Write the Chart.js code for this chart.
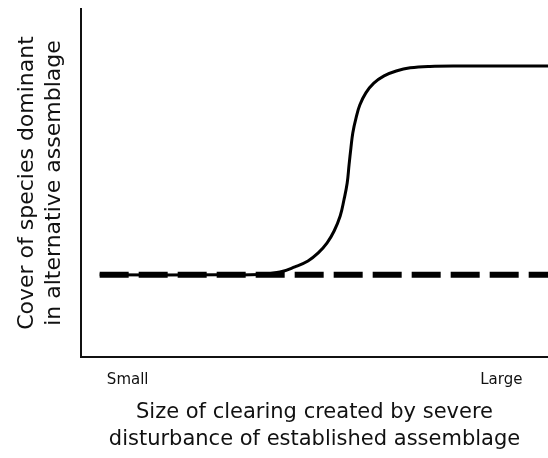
<!DOCTYPE html>
<html>
<head>
<meta charset="utf-8">
<script src="https://cdn.jsdelivr.net/npm/chart.js@4"></script>
<style>
	html, body { margin: 0; padding: 0; background: #fff; }
	#wrap { width: 548px; height: 458px; position: relative; }
</style>
</head>
<body>
<div id="wrap"><canvas id="clearingChart"></canvas></div>
<script>
	// Size of clearing (0 = small, 100 = large) and cover values.
	var sigmoidX = [4, 30, 38.3, 42.6, 45.8, 48.6, 50.8, 52.7, 54.2, 55.5, 56.3, 57, 57.4, 57.8, 58.2, 58.9, 59.7, 61, 62.7, 64.9, 67.5, 70.5, 74.7, 81.2, 100];
	var sigmoidY = [23.6, 23.6, 23.7, 24.4, 25.9, 27.6, 29.9, 32.8, 36.2, 40.5, 45.1, 50, 55.2, 60.1, 64.4, 68.7, 72.4, 75.9, 78.7, 80.8, 82.2, 83.1, 83.5, 83.6, 83.6];
	var flatX = [4, 100];
	var flatY = [23.6, 23.6];
	var tickValues = [10, 90];
	var tickLabels = ["Small", "Large"];
	var xTitle = ["Size of clearing created by severe", "disturbance of established assemblage"];
	var yTitle = ["Cover of species dominant", "in alternative assemblage"];

	function toPoints(xs, ys) {
		var out = [];
		for (var i = 0; i < xs.length; i++) {
			out.push({ x: xs[i], y: ys[i] });
		}
		return out;
	}

	var fontFamily = "'DejaVu Sans', sans-serif";

	var clearingChart = new Chart(document.getElementById('clearingChart'), {
		type: 'line',
		data: {
			datasets: [{
				data: toPoints(flatX, flatY),
				borderColor: '#000',
				borderWidth: 6,
				borderDash: [29, 10],
				pointRadius: 0,
				order: 1
			}, {
				data: toPoints(sigmoidX, sigmoidY),
				borderColor: '#000',
				borderWidth: 3,
				tension: 0.4,
				pointRadius: 0,
				order: 2
			}]
		},
		options: {
			responsive: true,
			maintainAspectRatio: false,
			animation: false,
			layout: { padding: { top: 9, right: 0, bottom: 0, left: 0 } },
			plugins: { legend: { display: false }, tooltip: { enabled: false } },
			scales: {
				x: {
					type: 'linear',
					min: 0,
					max: 100,
					grid: { display: false, drawTicks: false },
					border: { display: true, color: '#111', width: 2 },
					afterBuildTicks: function(scale) {
						scale.ticks = tickValues.map(function(v) { return { value: v }; });
					},
					afterFit: function(scale) { scale.height = 101; },
					ticks: {
						autoSkip: false,
						maxRotation: 0,
						padding: 14,
						color: '#111',
						font: { family: fontFamily, size: 15 },
						callback: function(value) {
							return tickLabels[tickValues.indexOf(value)];
						}
					},
					title: {
						display: true,
						text: xTitle,
						color: '#111',
						padding: { top: 0, bottom: 5 },
						font: { family: fontFamily, size: 21, lineHeight: 27 / 21 }
					}
				},
				y: {
					min: 0,
					max: 100,
					grid: { display: false, drawTicks: false },
					border: { display: true, color: '#111', width: 2 },
					ticks: { display: false },
					afterFit: function(scale) { scale.width = 81; },
					title: {
						display: true,
						text: yTitle,
						color: '#111',
						padding: { top: 14, bottom: 0 },
						font: { family: fontFamily, size: 22, lineHeight: 27 / 22 }
					}
				}
			}
		}
	});
</script>
</body>
</html>
